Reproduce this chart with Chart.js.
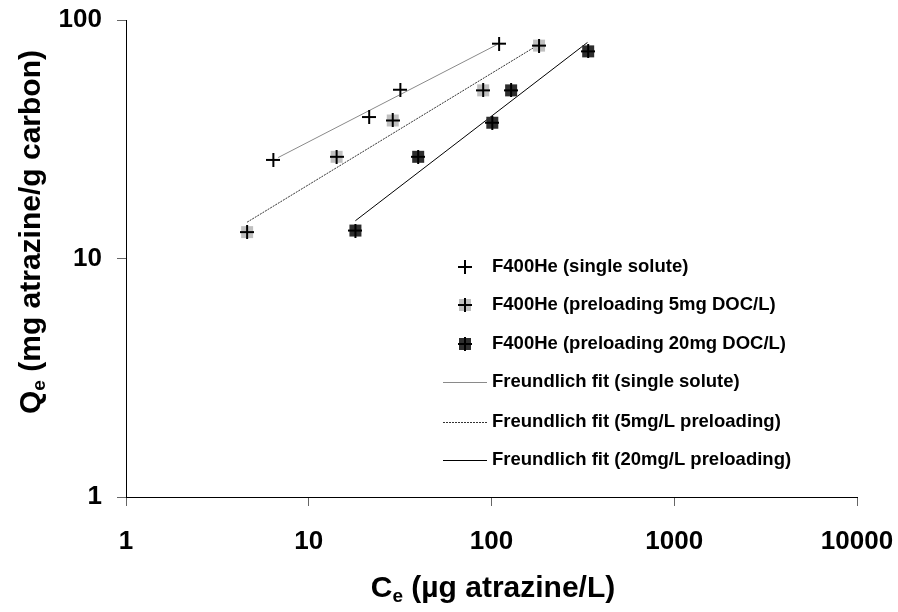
<!DOCTYPE html>
<html>
<head>
<meta charset="utf-8">
<script src="https://cdn.jsdelivr.net/npm/chart.js@4.4.1/dist/chart.umd.min.js"></script>
<style>
  html, body { margin: 0; padding: 0; background: #fff; }
  #wrap { width: 898px; height: 612px; }
</style>
</head>
<body>
<div id="wrap"><canvas id="isoChart" width="898" height="612"></canvas></div>
<script>
// measured points (Ce in ug/L, Qe in mg/g)
const ceSingle = [6.4, 21.4, 31.7, 110];
const qeSingle = [25.9, 39.2, 51.0, 79.6];
const ce5mg = [4.6, 14.2, 28.8, 90, 182];
const qe5mg = [12.9, 26.7, 37.9, 50.7, 78.1];
const ce20mg = [18, 39.7, 101, 128, 338];
const qe20mg = [13.1, 26.7, 37.1, 50.7, 73.9];

// Freundlich fit end points
const fitCeSingle = [6.8, 107];
const fitQeSingle = [26.5, 78.8];
const fitCe5mg = [4.6, 178];
const fitQe5mg = [14.2, 78.2];
const fitCe20mg = [18, 335];
const fitQe20mg = [14.4, 80.5];

const xTickValues = [1, 10, 100, 1000, 10000];
const yTickValues = [1, 10, 100];

const seriesLabels = [
    'F400He (single solute)',
    'F400He (preloading 5mg DOC/L)',
    'F400He (preloading 20mg DOC/L)',
    'Freundlich fit (single solute)',
    'Freundlich fit (5mg/L preloading)',
    'Freundlich fit (20mg/L preloading)',
];

const FONT = "'Liberation Sans', Arial, sans-serif";

function toXY(xs, ys) {
    return xs.map((x, i) => ({ x: x, y: ys[i] }));
}

// square + cross marker
function makeMarker(fill) {
    const c = document.createElement('canvas');
    c.width = 14;
    c.height = 14;
    const g = c.getContext('2d');
    if (fill) {
        g.fillStyle = fill;
        g.fillRect(1, 1, 12, 12);
    }
    g.fillStyle = '#000';
    g.fillRect(0, 6, 14, 2);
    g.fillRect(6, 0, 2, 14);
    return c;
}
const crossMarker = makeMarker(null);
const lightMarker = makeMarker('#c0c0c0');
const darkMarker = makeMarker('#2e2e2e');

// no label overflow padding, the layout padding below sets the plot box
function noOverflow(scale) {
    scale.paddingTop = 0;
    scale.paddingBottom = 0;
    scale.paddingLeft = 0;
    scale.paddingRight = 0;
}

// legend drawn inside the plot area, plus axis titles with subscripts
const extras = {
    id: 'extras',
    afterDraw(chart) {
        const ctx = chart.ctx;
        ctx.save();
        // legend
        const rows = [267, 305, 343.5, 382, 421.5, 460];
        ctx.font = 'bold 18.5px ' + FONT;
        ctx.textBaseline = 'middle';
        ctx.textAlign = 'left';
        chart.data.datasets.forEach((ds, i) => {
            const y = rows[i];
            if (ds.legendMarker) {
                ctx.drawImage(ds.legendMarker, 458, Math.round(y) - 7);
            } else {
                ctx.strokeStyle = ds.borderColor;
                ctx.lineWidth = 1;
                ctx.setLineDash(ds.borderDash || []);
                ctx.beginPath();
                ctx.moveTo(443, Math.round(y) + 0.5);
                ctx.lineTo(487, Math.round(y) + 0.5);
                ctx.stroke();
                ctx.setLineDash([]);
            }
            ctx.fillStyle = '#000';
            ctx.fillText(ds.label, 492, y);
        });

        // axis titles
        drawTitle(ctx, 'C', 'e', ' (\u00b5g atrazine/L)', 493, 597, 0);
        drawTitle(ctx, 'Q', 'e', ' (mg atrazine/g carbon)', 40, 232, -Math.PI / 2);
        ctx.restore();
    }
};

function drawTitle(ctx, main, sub, rest, cx, cy, angle) {
    const big = 'bold 30px ' + FONT;
    const small = 'bold 19px ' + FONT;
    ctx.save();
    ctx.translate(cx, cy);
    ctx.rotate(angle);
    ctx.fillStyle = '#000';
    ctx.textBaseline = 'alphabetic';
    ctx.textAlign = 'left';
    ctx.font = big;
    const w1 = ctx.measureText(main).width;
    const w3 = ctx.measureText(rest).width;
    ctx.font = small;
    const w2 = ctx.measureText(sub).width;
    let x = -(w1 + w2 + w3) / 2;
    ctx.font = big;
    ctx.fillText(main, x, 0);
    x += w1;
    ctx.font = small;
    ctx.fillText(sub, x, 5);
    x += w2;
    ctx.font = big;
    ctx.fillText(rest, x, 0);
    ctx.restore();
}

const isoCtx = document.getElementById('isoChart').getContext('2d');
const isoChart = new Chart(isoCtx, {
    type: 'scatter',
    data: {
        datasets: [
            {
                label: seriesLabels[0],
                data: toXY(ceSingle, qeSingle),
                pointStyle: crossMarker,
                legendMarker: crossMarker,
                order: 1,
            },
            {
                label: seriesLabels[1],
                data: toXY(ce5mg, qe5mg),
                pointStyle: lightMarker,
                legendMarker: lightMarker,
                order: 1,
            },
            {
                label: seriesLabels[2],
                data: toXY(ce20mg, qe20mg),
                pointStyle: darkMarker,
                legendMarker: darkMarker,
                order: 1,
            },
            {
                label: seriesLabels[3],
                data: toXY(fitCeSingle, fitQeSingle),
                showLine: true,
                borderColor: '#8a8a8a',
                borderWidth: 1,
                pointRadius: 0,
                order: 2,
            },
            {
                label: seriesLabels[4],
                data: toXY(fitCe5mg, fitQe5mg),
                showLine: true,
                borderColor: '#333333',
                borderDash: [2, 1],
                borderWidth: 1,
                pointRadius: 0,
                order: 2,
            },
            {
                label: seriesLabels[5],
                data: toXY(fitCe20mg, fitQe20mg),
                showLine: true,
                borderColor: '#000000',
                borderWidth: 1,
                pointRadius: 0,
                order: 2,
            },
        ],
    },
    options: {
        responsive: false,
        animation: false,
        devicePixelRatio: 1,
        layout: { padding: { top: 20, right: 41, left: 0, bottom: 0 } },
        plugins: {
            legend: { display: false },
            tooltip: { enabled: false },
        },
        scales: {
            x: {
                type: 'logarithmic',
                min: 1,
                max: 10000,
                afterBuildTicks: (scale) => { scale.ticks = xTickValues.map(v => ({ value: v })); },
                afterFit: (scale) => { scale.height = 115; noOverflow(scale); },
                grid: { drawOnChartArea: false, drawTicks: true, tickLength: 9, color: '#666' },
                border: { color: '#000', width: 1 },
                ticks: {
                    autoSkip: false,
                    maxRotation: 0,
                    padding: 20,
                    color: '#000',
                    font: { family: FONT, size: 26, weight: 'bold' },
                    callback: (v) => String(v),
                },
            },
            y: {
                type: 'logarithmic',
                min: 1,
                max: 100,
                afterBuildTicks: (scale) => { scale.ticks = yTickValues.map(v => ({ value: v })); },
                afterFit: (scale) => { scale.width = 126; noOverflow(scale); },
                grid: { drawOnChartArea: false, drawTicks: true, tickLength: 9, color: '#666' },
                border: { color: '#000', width: 1 },
                ticks: {
                    padding: 15,
                    color: '#000',
                    font: { family: FONT, size: 26, weight: 'bold' },
                    callback: (v) => String(v),
                },
            },
        },
    },
    plugins: [extras],
});
</script>
</body>
</html>
